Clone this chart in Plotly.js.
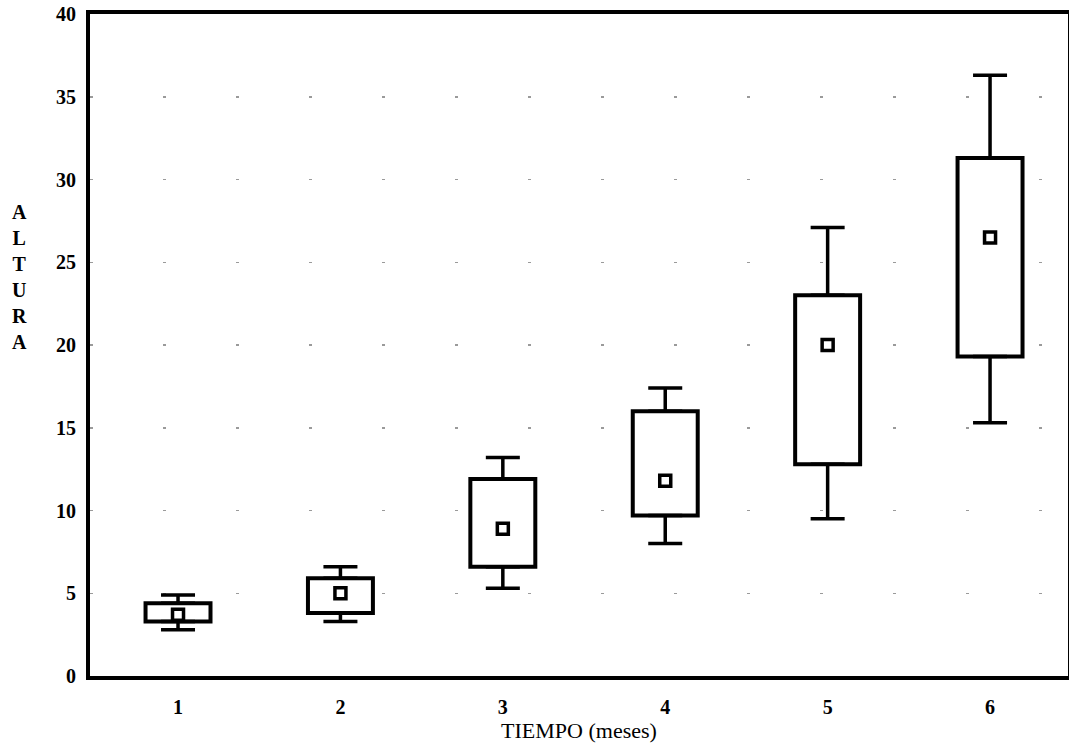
<!DOCTYPE html>
<html><head><meta charset="utf-8">
<script src="https://cdn.plot.ly/plotly-3.0.1.min.js"></script>
<style>html,body{margin:0;padding:0;background:#fff}</style>
</head><body>
<div id="chart" style="width:1069px;height:745px"></div>
<script>
const meses = [1, 2, 3, 4, 5, 6];
const minimo = [2.8, 3.3, 5.3, 8.0, 9.5, 15.3];
const q1 = [3.3, 3.8, 6.6, 9.7, 12.8, 19.3];
const mediana = [3.7, 5.0, 8.9, 11.8, 20.0, 26.5];
const q3 = [4.4, 5.9, 11.9, 16.0, 23.0, 31.3];
const maximo = [4.9, 6.6, 13.2, 17.4, 27.1, 36.3];
const yTicks = [0, 5, 10, 15, 20, 25, 30, 35, 40];

const zeros = meses.map(() => 0);
const serif = 'Liberation Serif, Times New Roman, serif';

const traces = [
  { type: 'bar', x: meses, base: q1, y: q3.map((v, i) => v - q1[i]), width: 0.4,
    marker: { color: '#ffffff', line: { color: '#000', width: 4 } }, hoverinfo: 'skip' },
  { type: 'scatter', mode: 'markers', x: meses, y: q3,
    marker: { size: 1, color: 'rgba(0,0,0,0)' },
    error_y: { type: 'data', symmetric: false, array: maximo.map((v, i) => v - q3[i]), arrayminus: zeros,
               color: '#000', thickness: 3.5, width: 17 } },
  { type: 'scatter', mode: 'markers', x: meses, y: q1,
    marker: { size: 1, color: 'rgba(0,0,0,0)' },
    error_y: { type: 'data', symmetric: false, array: zeros, arrayminus: q1.map((v, i) => v - minimo[i]),
               color: '#000', thickness: 3.5, width: 17 } },
  { type: 'scatter', mode: 'markers', x: meses, y: mediana,
    marker: { symbol: 'square-open', size: 11, color: '#000', line: { width: 3.5, color: '#000' } } }
];

const layout = {
  width: 1069, height: 745,
  margin: { l: 90, r: 1, t: 14, b: 69 },
  paper_bgcolor: '#fff', plot_bgcolor: '#fff',
  showlegend: false,
  font: { family: serif, color: '#000' },
  xaxis: {
    range: [0.458, 6.48], tickvals: meses, ticktext: meses.map(String),
    showgrid: false, zeroline: false, ticks: '', ticklabelstandoff: 10,
    showline: true, linecolor: '#000', linewidth: 4, mirror: true,
    tickfont: { family: serif, size: 20, color: '#000', weight: 'bold' },
    title: { text: 'TIEMPO (meses)', font: { family: serif, size: 22, color: '#000' }, standoff: 4 }
  },
  yaxis: {
    range: [0, 40], tickvals: yTicks, ticktext: yTicks.map(String),
    showgrid: true, gridcolor: '#9a9a9a', gridwidth: 1.5, griddash: '3px,70px',
    zeroline: false, ticks: '', ticklabelstandoff: 6,
    showline: true, linecolor: '#000', linewidth: 4, mirror: true,
    tickfont: { family: serif, size: 20, color: '#000', weight: 'bold' }
  },
  annotations: [{
    text: 'A<br>L<br>T<br>U<br>R<br>A', xref: 'paper', yref: 'paper',
    x: -0.072, y: 0.72, xanchor: 'center', yanchor: 'top', showarrow: false,
    font: { family: serif, size: 20, color: '#000', weight: 'bold' }
  }]
};

Plotly.newPlot('chart', traces, layout, { displayModeBar: false, staticPlot: true });
</script>
</body></html>
